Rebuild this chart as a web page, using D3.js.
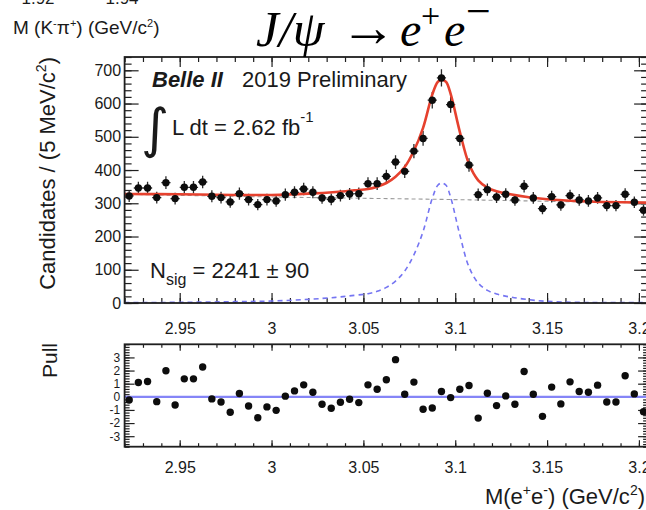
<!DOCTYPE html>
<html>
<head>
<meta charset="utf-8">
<script src="https://cdn.jsdelivr.net/npm/d3@7"></script>
<style>
  html, body { margin: 0; padding: 0; background: #fff; }
  svg { display: block; }
</style>
</head>
<body>
<script>
// ---------------- data ----------------
const binStart = 2.92;
const binWidth = 0.005;
const counts = [322,346,346,317,362,314,348,348,364,321,
                317,304,329,311,296,311,307,326,333,343,
                333,316,312,323,328,329,359,359,381,424,
                396,457,495,610,677,597,495,415,326,341,
                319,327,310,351,316,284,320,295,323,310,
                307,316,293,293,327,303,279];
const pulls = [-0.24,1.09,1.17,-0.37,1.98,-0.62,1.37,1.37,2.27,-0.16,
               -0.39,-1.18,0.25,-0.70,-1.59,-0.77,-1.03,0.05,0.45,0.91,
               0.35,-0.57,-0.87,-0.41,-0.18,-0.44,0.91,0.58,1.30,2.83,
               0.20,1.12,-0.95,-0.85,0.40,-0.06,0.58,0.86,-1.62,0.27,
               -0.67,0.07,-0.57,1.93,0.20,-1.49,0.74,-0.54,1.14,0.40,
               0.35,0.89,-0.39,-0.39,1.60,0.22,-1.13];
const curveMass = [2.92,2.95,2.98,3.0,3.02,3.035,3.045,3.0525,3.0575,3.0625,
                   3.0675,3.0725,3.0775,3.0825,3.0875,3.0905,3.0926,3.095,3.0975,3.1025,
                   3.1075,3.1125,3.1175,3.1225,3.13,3.14,3.15,3.165,3.18,3.205];
const totalFit = [328,327,325,325,329,334,339,343,350,361,
                  380,409,458,527,627,665,672,665,629,515,
                  418,369,347,336,327,318,312,307,304,302];
const signalFit = [1,2,4,6,11,17,23,28,35,47,
                   66,96,145,215,315,354,361,354,318,205,
                   108,60,38,27,18,10,5,2,1.5,1];
const bkgMass = [2.92,3.0,3.05,3.1,3.15,3.205];
const bkgFit = [327,319,315,311,306,301];
const xTickValues = [2.95,3.0,3.05,3.1,3.15,3.2];
const xTickLabels = ["2.95","3","3.05","3.1","3.15","3.2"];
const yTickValues = [0,100,200,300,400,500,600,700];
const pullTickValues = [-3,-2,-1,0,1,2,3];
const pullTickLabels = ["-3","-2","-1","0","1","2","3"];

// ---------------- layout ----------------
const W = 646, H = 510;
const SANS = "Liberation Sans, Arial, Helvetica, sans-serif";
const svg = d3.select("body").append("svg").attr("width", W).attr("height", H)
  .attr("font-family", SANS).attr("fill", "#1a1a1a");

const x = d3.scaleLinear().domain([2.92, 3.205]).range([124.6, 648.1]);
const y = d3.scaleLinear().domain([0, 740]).range([303, 57]);
const yp = d3.scaleLinear().domain([-3.8, 4.0]).range([446.7, 344.3]);

const centers = counts.map((c, i) => binStart + (i + 0.5) * binWidth);
const frameColor = "#1f1f1f";

function steps(lo, hi, step) {
  const out = [];
  const n = Math.round((hi - lo) / step);
  for (let i = 0; i <= n; i++) out.push(+(lo + i * step).toFixed(6));
  return out;
}
const xMinor = steps(2.92, 3.20, 0.01);
const yMinor = steps(0, 740, 20);
const pMinor = steps(-3.8, 4.0, 0.2);

function styleAxis(g) {
  g.attr("font-family", SANS);
  g.select(".domain").remove();
  g.selectAll(".tick line").attr("stroke", frameColor).attr("stroke-width", 1.2);
  g.selectAll("text").attr("fill", "#1a1a1a");
}

svg.append("clipPath").attr("id", "clipMain").append("rect")
  .attr("x", 124.6).attr("y", 57).attr("width", 648.1 - 124.6).attr("height", 303 - 57);
svg.append("clipPath").attr("id", "clipPull").append("rect")
  .attr("x", 124.6).attr("y", 344.3).attr("width", 648.1 - 124.6).attr("height", 446.7 - 344.3);

// ---------------- main pad ----------------
const main = svg.append("g");

main.append("g").attr("transform", "translate(0,303)")
  .call(d3.axisBottom(x).tickValues(xMinor).tickSize(-5).tickFormat("")).call(styleAxis);
main.append("g").attr("transform", "translate(0,303)")
  .call(d3.axisBottom(x).tickValues(xTickValues).tickSize(-10).tickPadding(20)
        .tickFormat((d, i) => xTickLabels[i]))
  .call(styleAxis)
  .call(g => g.selectAll("text").attr("font-size", 16));
main.append("g").attr("transform", "translate(0,57)")
  .call(d3.axisTop(x).tickValues(xMinor).tickSize(-5).tickFormat("")).call(styleAxis);
main.append("g").attr("transform", "translate(0,57)")
  .call(d3.axisTop(x).tickValues(xTickValues).tickSize(-10).tickFormat("")).call(styleAxis);
main.append("g").attr("transform", "translate(124.6,0)")
  .call(d3.axisLeft(y).tickValues(yMinor).tickSize(-7).tickFormat("")).call(styleAxis);
main.append("g").attr("transform", "translate(124.6,0)")
  .call(d3.axisLeft(y).tickValues(yTickValues).tickSize(-14).tickPadding(3.5).tickFormat(d3.format("d")))
  .call(styleAxis)
  .call(g => g.selectAll("text").attr("font-size", 16));
main.append("g").attr("transform", "translate(648.1,0)")
  .call(d3.axisRight(y).tickValues(yMinor).tickSize(-7).tickFormat("")).call(styleAxis);
main.append("g").attr("transform", "translate(648.1,0)")
  .call(d3.axisRight(y).tickValues(yTickValues).tickSize(-14).tickFormat("")).call(styleAxis);

const plotG = main.append("g").attr("clip-path", "url(#clipMain)");
const bkgLine = d3.line().x((d, i) => x(bkgMass[i])).y(d => y(d)).curve(d3.curveMonotoneX);
const fitLine = d3.line().x((d, i) => x(curveMass[i])).y(d => y(d)).curve(d3.curveCatmullRom.alpha(0.5));

plotG.append("path").attr("d", bkgLine(bkgFit))
  .attr("fill", "none").attr("stroke", "#9a9a9a").attr("stroke-width", 1.1)
  .attr("stroke-dasharray", "4,3");
plotG.append("path").attr("d", fitLine(signalFit))
  .attr("fill", "none").attr("stroke", "#7575f2").attr("stroke-width", 1.6)
  .attr("stroke-dasharray", "5,4");

const bars = plotG.append("g");
counts.forEach((c, i) => {
  const cx = x(centers[i]), cy = y(c), e = Math.sqrt(c);
  bars.append("line").attr("x1", cx).attr("x2", cx).attr("y1", y(c - e)).attr("y2", y(c + e))
    .attr("stroke", "#2a2a2a").attr("stroke-width", 1.3);
  bars.append("line").attr("x1", x(centers[i] - binWidth / 2)).attr("x2", x(centers[i] + binWidth / 2))
    .attr("y1", cy).attr("y2", cy).attr("stroke", "#2a2a2a").attr("stroke-width", 1.3);
});

plotG.append("path").attr("d", fitLine(totalFit))
  .attr("fill", "none").attr("stroke", "#e6412e").attr("stroke-width", 2.6);

const dots = plotG.append("g");
counts.forEach((c, i) => {
  dots.append("circle").attr("cx", x(centers[i])).attr("cy", y(c)).attr("r", 3.7).attr("fill", "#0d0d0d");
});

main.append("rect").attr("x", 124.6).attr("y", 57).attr("width", 648.1 - 124.6).attr("height", 303 - 57)
  .attr("fill", "none").attr("stroke", frameColor).attr("stroke-width", 1.8);

// in-plot texts
main.append("text").attr("x", 152).attr("y", 87).attr("font-size", 22)
  .attr("font-weight", "bold").attr("font-style", "italic").text("Belle II");
main.append("text").attr("x", 242).attr("y", 87).attr("font-size", 22).text("2019 Preliminary");
main.append("text").attr("x", 141).attr("y", 147).attr("font-size", 54)
  .attr("font-family", "DejaVu Sans, sans-serif").text("\u222B");
const lum = main.append("text").attr("x", 172).attr("y", 135).attr("font-size", 22);
lum.append("tspan").text("L dt = 2.62 fb");
lum.append("tspan").attr("dy", -13).attr("font-size", 15).text("-1");
const nsig = main.append("text").attr("x", 150).attr("y", 278).attr("font-size", 22);
nsig.append("tspan").text("N");
nsig.append("tspan").attr("dy", 7).attr("font-size", 16).text("sig");
nsig.append("tspan").attr("dy", -7).text(" = 2241 \u00B1 90");

// ---------------- pull pad ----------------
const pull = svg.append("g");
pull.append("g").attr("transform", "translate(0,446.7)")
  .call(d3.axisBottom(x).tickValues(xMinor).tickSize(-3.5).tickFormat("")).call(styleAxis);
pull.append("g").attr("transform", "translate(0,446.7)")
  .call(d3.axisBottom(x).tickValues(xTickValues).tickSize(-6.5).tickPadding(15)
        .tickFormat((d, i) => xTickLabels[i]))
  .call(styleAxis)
  .call(g => g.selectAll("text").attr("font-size", 16));
pull.append("g").attr("transform", "translate(0,344.3)")
  .call(d3.axisTop(x).tickValues(xMinor).tickSize(-3.5).tickFormat("")).call(styleAxis);
pull.append("g").attr("transform", "translate(0,344.3)")
  .call(d3.axisTop(x).tickValues(xTickValues).tickSize(-6.5).tickFormat("")).call(styleAxis);
pull.append("g").attr("transform", "translate(124.6,0)")
  .call(d3.axisLeft(yp).tickValues(pMinor).tickSize(-5).tickFormat("")).call(styleAxis);
pull.append("g").attr("transform", "translate(124.6,0)")
  .call(d3.axisLeft(yp).tickValues(pullTickValues).tickSize(-10).tickPadding(4.5)
        .tickFormat((d, i) => pullTickLabels[i]))
  .call(styleAxis)
  .call(g => g.selectAll("text").attr("font-size", 12));
pull.append("g").attr("transform", "translate(648.1,0)")
  .call(d3.axisRight(yp).tickValues(pMinor).tickSize(-5).tickFormat("")).call(styleAxis);
pull.append("g").attr("transform", "translate(648.1,0)")
  .call(d3.axisRight(yp).tickValues(pullTickValues).tickSize(-10).tickFormat("")).call(styleAxis);

const pullG = pull.append("g").attr("clip-path", "url(#clipPull)");
pullG.append("line").attr("x1", x(2.92)).attr("x2", x(3.205)).attr("y1", yp(0)).attr("y2", yp(0))
  .attr("stroke", "#8585f7").attr("stroke-width", 2.2);
pulls.forEach((p, i) => {
  pullG.append("circle").attr("cx", x(centers[i])).attr("cy", yp(p)).attr("r", 3.7).attr("fill", "#0d0d0d");
});
pull.append("rect").attr("x", 124.6).attr("y", 344.3).attr("width", 648.1 - 124.6).attr("height", 446.7 - 344.3)
  .attr("fill", "none").attr("stroke", frameColor).attr("stroke-width", 1.8);

// ---------------- axis titles ----------------
svg.append("text").attr("transform", "translate(55,57) rotate(-90)")
  .attr("text-anchor", "end").attr("font-size", 22)
  .call(t => {
    t.append("tspan").text("Candidates / (5 MeV/c");
    t.append("tspan").attr("dy", -9).attr("font-size", 14).text("2");
    t.append("tspan").attr("dy", 9).text(")");
  });
svg.append("text").attr("transform", "translate(57,343) rotate(-90)")
  .attr("text-anchor", "end").attr("font-size", 21).text("Pull");

const xt = svg.append("text").attr("x", 645).attr("y", 504).attr("text-anchor", "end").attr("font-size", 22);
xt.append("tspan").text("M(e");
xt.append("tspan").attr("dy", -9).attr("font-size", 14).text("+");
xt.append("tspan").attr("dy", 9).text("e");
xt.append("tspan").attr("dy", -9).attr("font-size", 14).text("-");
xt.append("tspan").attr("dy", 9).text(") (GeV/c");
xt.append("tspan").attr("dy", -9).attr("font-size", 14).text("2");
xt.append("tspan").attr("dy", 9).text(")");

// ---------------- top remnants and title ----------------
svg.append("text").attr("x", 38).attr("y", 4).attr("text-anchor", "middle").attr("font-size", 17).text("1.92");
svg.append("text").attr("x", 122).attr("y", 4).attr("text-anchor", "middle").attr("font-size", 17).text("1.94");
const kp = svg.append("text").attr("x", 13).attr("y", 34).attr("font-size", 19);
kp.append("tspan").text("M (K");
kp.append("tspan").attr("dy", -7).attr("font-size", 11).text("-");
kp.append("tspan").attr("dy", 7).text("\u03C0");
kp.append("tspan").attr("dy", -7).attr("font-size", 11).text("+");
kp.append("tspan").attr("dy", 7).text(") (GeV/c");
kp.append("tspan").attr("dy", -7).attr("font-size", 11).text("2");
kp.append("tspan").attr("dy", 7).text(")");

const title = svg.append("text").attr("y", 46).attr("font-size", 48)
  .attr("font-family", "Liberation Serif, Times New Roman, serif").attr("fill", "#000");
title.append("tspan").attr("x", 256).attr("font-style", "italic").attr("font-size", 51).text("J/\u03C8");
title.append("tspan").attr("x", 340).attr("font-size", 56).text("\u2192");
title.append("tspan").attr("x", 400).attr("font-style", "italic").text("e");
title.append("tspan").attr("x", 421).attr("dy", -19).attr("font-size", 34).text("+");
title.append("tspan").attr("x", 444).attr("dy", 19).attr("font-style", "italic").text("e");
title.append("tspan").attr("x", 466).attr("dy", -20).attr("font-size", 44).text("\u2212");
</script>
</body>
</html>
